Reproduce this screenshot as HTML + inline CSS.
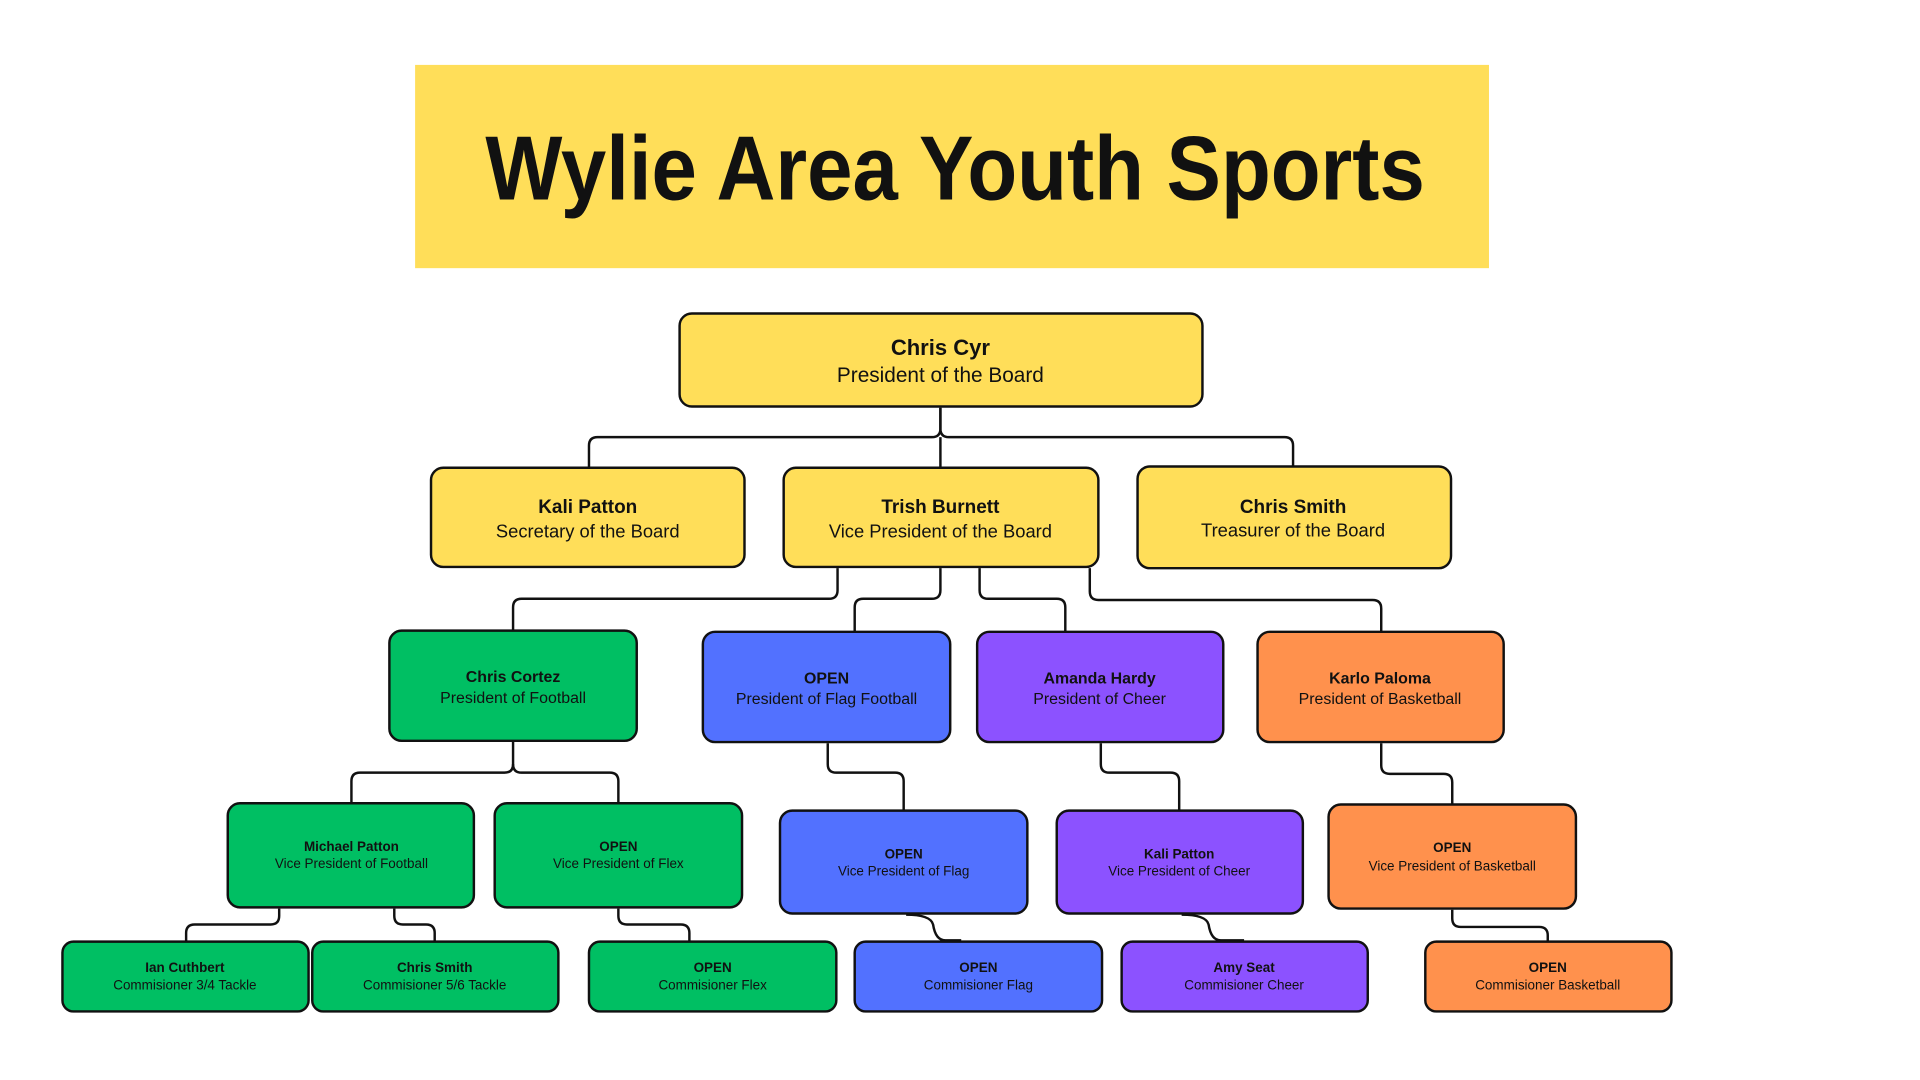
<!DOCTYPE html>
<html><head><meta charset="utf-8"><style>
html,body{margin:0;padding:0;background:#fff;width:1920px;height:1080px;overflow:hidden}
svg{display:block}
text{font-family:"Liberation Sans",sans-serif;text-anchor:middle;fill:#111}
.b{font-weight:bold}
</style></head><body>
<svg width="1920" height="1080" viewBox="0 0 1568 882" preserveAspectRatio="none" xmlns="http://www.w3.org/2000/svg">
<rect x="339" y="53" width="877" height="166" fill="#FFDE59"/>
<text x="780" y="163" class="b" font-size="74" transform="translate(780 0) scale(0.9 1) translate(-780 0)">Wylie Area Youth Sports</text>

<g fill="none" stroke="#111" stroke-width="2">
<path d="M768 333 V350 Q768 357 761 357 H488 Q481 357 481 364 V382"/>
<path d="M768 333 V350 Q768 357 775 357 H1049 Q1056 357 1056 364 V381"/>
<path d="M768 357 V382"/>
<path d="M684 464 V482 Q684 489 677 489 H426 Q419 489 419 496 V515"/>
<path d="M768 464 V482 Q768 489 761 489 H705 Q698 489 698 496 V516"/>
<path d="M800 464 V482 Q800 489 807 489 H863 Q870 489 870 496 V516"/>
<path d="M890 464 V483 Q890 490 897 490 H1121 Q1128 490 1128 497 V516"/>
<path d="M419 606 V624 Q419 631 412 631 H294 Q287 631 287 638 V656"/>
<path d="M419 624 Q419 631 426 631 H498 Q505 631 505 638 V656"/>
<path d="M676 607 V624 Q676 631 683 631 H731 Q738 631 738 638 V662"/>
<path d="M899 607 V624 Q899 631 906 631 H956 Q963 631 963 638 V662"/>
<path d="M1128 607 V625 Q1128 632 1135 632 H1179 Q1186 632 1186 639 V657"/>
<path d="M228 742 V748 Q228 755 221 755 H159 Q152 755 152 762 V769"/>
<path d="M322 742 V748 Q322 755 329 755 H348 Q355 755 355 762 V769"/>
<path d="M505 742 V748 Q505 755 512 755 H556 Q563 755 563 762 V769"/>
<path d="M740 747 Q760 747 762 755 Q764 768 772 768 H785"/>
<path d="M965 747 Q985 747 987 755 Q989 768 997 768 H1016"/>
<path d="M1186 743 V750 Q1186 757 1193 757 H1257 Q1264 757 1264 764 V769"/>
</g>

<g stroke="#111" stroke-width="2">
<rect x="555" y="256" width="427" height="76" rx="10" fill="#FFDE59"/>
<rect x="352" y="382" width="256" height="81" rx="10" fill="#FFDE59"/>
<rect x="640" y="382" width="257" height="81" rx="10" fill="#FFDE59"/>
<rect x="929" y="381" width="256" height="83" rx="10" fill="#FFDE59"/>
<rect x="318" y="515" width="202" height="90" rx="10" fill="#00BF63"/>
<rect x="574" y="516" width="202" height="90" rx="10" fill="#5271FF"/>
<rect x="798" y="516" width="201" height="90" rx="10" fill="#8C52FF"/>
<rect x="1027" y="516" width="201" height="90" rx="10" fill="#FF914D"/>
<rect x="186" y="656" width="201" height="85" rx="10" fill="#00BF63"/>
<rect x="404" y="656" width="202" height="85" rx="10" fill="#00BF63"/>
<rect x="637" y="662" width="202" height="84" rx="10" fill="#5271FF"/>
<rect x="863" y="662" width="201" height="84" rx="10" fill="#8C52FF"/>
<rect x="1085" y="657" width="202" height="85" rx="10" fill="#FF914D"/>
<rect x="51" y="769" width="201" height="57" rx="9" fill="#00BF63"/>
<rect x="255" y="769" width="201" height="57" rx="9" fill="#00BF63"/>
<rect x="481" y="769" width="202" height="57" rx="9" fill="#00BF63"/>
<rect x="698" y="769" width="202" height="57" rx="9" fill="#5271FF"/>
<rect x="916" y="769" width="201" height="57" rx="9" fill="#8C52FF"/>
<rect x="1164" y="769" width="201" height="57" rx="9" fill="#FF914D"/>
</g>

<text x="768" y="290" class="b" font-size="18">Chris Cyr</text>
<text x="768" y="312" font-size="17">President of the Board</text>
<text x="480" y="419" class="b" font-size="15.5">Kali Patton</text>
<text x="480" y="439" font-size="15">Secretary of the Board</text>
<text x="768" y="419" class="b" font-size="15.5">Trish Burnett</text>
<text x="768" y="439" font-size="15">Vice President of the Board</text>
<text x="1056" y="419" class="b" font-size="15.5">Chris Smith</text>
<text x="1056" y="438" font-size="15">Treasurer of the Board</text>

<g font-size="13">
<text x="419" y="557" class="b">Chris Cortez</text><text x="419" y="574">President of Football</text>
<text x="675" y="558" class="b">OPEN</text><text x="675" y="575">President of Flag Football</text>
<text x="898" y="558" class="b">Amanda Hardy</text><text x="898" y="575">President of Cheer</text>
<text x="1127" y="558" class="b">Karlo Paloma</text><text x="1127" y="575">President of Basketball</text>
</g>
<g font-size="11">
<text x="287" y="695" class="b">Michael Patton</text><text x="287" y="709">Vice President of Football</text>
<text x="505" y="695" class="b">OPEN</text><text x="505" y="709">Vice President of Flex</text>
<text x="738" y="701" class="b">OPEN</text><text x="738" y="715">Vice President of Flag</text>
<text x="963" y="701" class="b">Kali Patton</text><text x="963" y="715">Vice President of Cheer</text>
<text x="1186" y="696" class="b">OPEN</text><text x="1186" y="711">Vice President of Basketball</text>
<text x="151" y="794" class="b">Ian Cuthbert</text><text x="151" y="808">Commisioner 3/4 Tackle</text>
<text x="355" y="794" class="b">Chris Smith</text><text x="355" y="808">Commisioner 5/6 Tackle</text>
<text x="582" y="794" class="b">OPEN</text><text x="582" y="808">Commisioner Flex</text>
<text x="799" y="794" class="b">OPEN</text><text x="799" y="808">Commisioner Flag</text>
<text x="1016" y="794" class="b">Amy Seat</text><text x="1016" y="808">Commisioner Cheer</text>
<text x="1264" y="794" class="b">OPEN</text><text x="1264" y="808">Commisioner Basketball</text>
</g>
</svg>
</body></html>
